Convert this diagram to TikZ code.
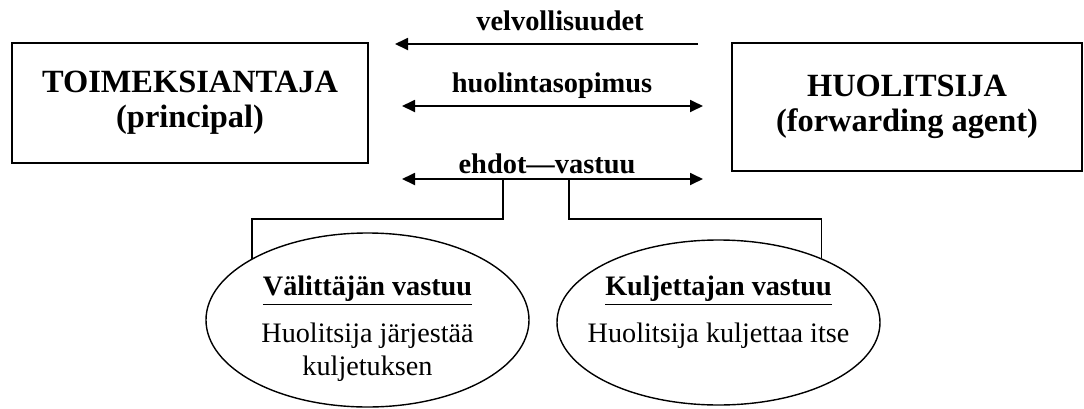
\documentclass[tikz,border=0pt]{standalone}
\usepackage{fontspec}
\setmainfont{Liberation Serif}
\usetikzlibrary{arrows.meta, positioning, shapes.geometric}

\begin{document}
\begin{tikzpicture}[
    x=0.5pt, y=-0.5pt,
    party/.style={
        draw,
        minimum width=178pt,
        minimum height=60pt,
        align=center,
        line width=0.9pt,
        font=\fontsize{16.2}{17.5}\selectfont\bfseries
    },
    arrowlabel/.style={
        anchor=base,
        inner sep=0pt,
        font=\fontsize{14.2}{17}\selectfont\bfseries
    },
    vastuu/.style={
        draw,
        ellipse,
        minimum width=161.5pt,
        minimum height=87pt,
        line width=0.7pt
    },
    vtext/.style={
        anchor=north,
        inner sep=0pt,
        align=center,
        font=\fontsize{14.1}{16.5}\selectfont
    },
    arrow/.style={
        -{Triangle[length=6.5pt,width=6pt]},
        line width=0.9pt
    },
    twoway/.style={
        {Triangle[length=6.5pt,width=6pt]}-{Triangle[length=6.5pt,width=6pt]},
        line width=0.9pt
    },
    link/.style={
        line width=0.7pt
    }
]
\useasboundingbox (0,0) rectangle (1084,408);

% Parties
\node[party] (toim) at (190,103) {TOIMEKSIANTAJA\\(principal)};
\node[party, minimum width=175pt, minimum height=64pt] (huol) at (907,107) {HUOLITSIJA\\(forwarding agent)};

% Arrows between the parties
\node[arrowlabel] (velv) at (560,30) {velvollisuudet};
\node[arrowlabel] (sopimus) at (552,92) {huolintasopimus};
\node[arrowlabel] (ehdot) at (547,173) {ehdot—vastuu};

\coordinate (v0) at (395,44);
\coordinate (v1) at (698,44);
\coordinate (s0) at (402,106);
\coordinate (s1) at (703,106);
\coordinate (e0) at (402,179);
\coordinate (e1) at (703,179);

\draw[arrow] (v1) -- (v0);
\draw[twoway] (s0) -- (s1);
\draw[twoway] (e0) -- (e1);

% Liability types
\node[vastuu] (vali) at (367.5,320) {};
\node[vastuu, minimum height=82.5pt] (kulj) at (718.5,322.5) {};

\node[vtext] (valit) at (367.5,276) {\underline{\textbf{Välittäjän vastuu}}\\[7pt]Huolitsija järjestää\\kuljetuksen};
\node[vtext] (kuljt) at (718.5,276) {\underline{\textbf{Kuljettajan vastuu}}\\[7pt]Huolitsija kuljettaa itse};

\coordinate (b1) at (503,179);
\coordinate (b2) at (569,179);

\draw[link] (b1) -- ++(0,40) -| (vali.152);
\draw[link] (b2) -- ++(0,40) -| (kulj.32);

\end{tikzpicture}
\end{document}
